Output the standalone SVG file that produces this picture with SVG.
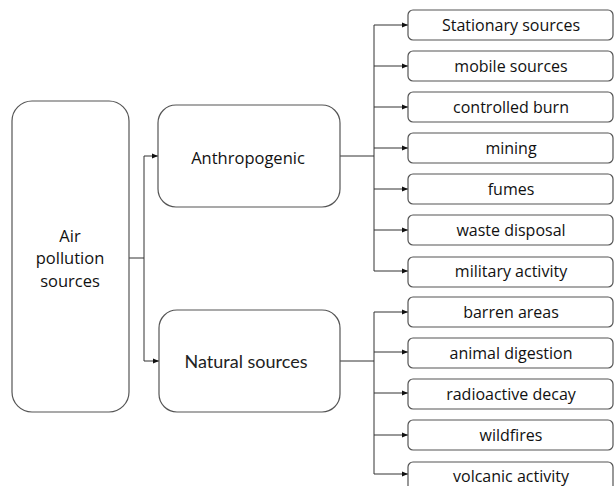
<svg xmlns="http://www.w3.org/2000/svg" width="616" height="486" viewBox="0 0 616 486">
<style>
.box{fill:#fff;stroke:#555;stroke-width:1.2}
.t{font-family:"Open Sans","Liberation Sans",sans-serif;font-size:16px;fill:#111;text-anchor:middle;dominant-baseline:central}
.big{font-size:16.5px}
.lato{font-family:Lato,"Open Sans",sans-serif;font-size:18px;font-weight:400;fill:#222}
.c{fill:none;stroke:#333;stroke-width:1}
</style>
<defs>
<marker id="ah" markerWidth="6" markerHeight="6" refX="6" refY="3" orient="auto" markerUnits="userSpaceOnUse">
<path d="M0,0.5 L6,3 L0,5.5 Z" fill="#111"/>
</marker>
</defs>
<rect width="616" height="486" fill="#fff"/>
<g id="connectors">
<path class="c" d="M129,258 H144 M144,156 V361"/>
<path class="c" d="M144,156 H158" marker-end="url(#ah)"/>
<path class="c" d="M144,361 H159" marker-end="url(#ah)"/>
<path class="c" d="M340,156 H374 M374,25 V271"/>
<path class="c" d="M374,25 H408" marker-end="url(#ah)"/>
<path class="c" d="M374,66 H408" marker-end="url(#ah)"/>
<path class="c" d="M374,107 H408" marker-end="url(#ah)"/>
<path class="c" d="M374,148 H408" marker-end="url(#ah)"/>
<path class="c" d="M374,189 H408" marker-end="url(#ah)"/>
<path class="c" d="M374,230 H408" marker-end="url(#ah)"/>
<path class="c" d="M374,271 H408" marker-end="url(#ah)"/>
<path class="c" d="M340,361 H374 M374,312 V474"/>
<path class="c" d="M374,312 H408" marker-end="url(#ah)"/>
<path class="c" d="M374,352 H408" marker-end="url(#ah)"/>
<path class="c" d="M374,393 H408" marker-end="url(#ah)"/>
<path class="c" d="M374,435 H408" marker-end="url(#ah)"/>
<path class="c" d="M374,474 H408" marker-end="url(#ah)"/>
</g>
<g id="air">
<rect class="box" x="12" y="101" width="117" height="311" rx="20"/>
<text class="t big" x="70" y="235">Air</text>
<text class="t big" x="70" y="257">pollution</text>
<text class="t big" x="70" y="280">sources</text>
</g>
<g id="anthropogenic">
<rect class="box" x="158" y="105" width="182" height="102" rx="18"/>
<text class="t big" x="248" y="157">Anthropogenic</text>
</g>
<g id="natural">
<rect class="box" x="159" y="310" width="181" height="102" rx="18"/>
<text class="t lato" x="246" y="361">Natural sources</text>
</g>
<g id="stationary"><rect class="box" x="408" y="10" width="205" height="30" rx="5"/><text class="t" x="511" y="25">Stationary sources</text></g>
<g id="mobile"><rect class="box" x="408" y="51" width="205" height="30" rx="5"/><text class="t" x="511" y="66">mobile sources</text></g>
<g id="burn"><rect class="box" x="408" y="92" width="205" height="30" rx="5"/><text class="t" x="511" y="107">controlled burn</text></g>
<g id="mining"><rect class="box" x="408" y="133" width="205" height="30" rx="5"/><text class="t" x="511" y="148">mining</text></g>
<g id="fumes"><rect class="box" x="408" y="174" width="205" height="30" rx="5"/><text class="t" x="511" y="189">fumes</text></g>
<g id="waste"><rect class="box" x="408" y="215" width="205" height="30" rx="5"/><text class="t" x="511" y="230">waste disposal</text></g>
<g id="military"><rect class="box" x="408" y="257" width="205" height="30" rx="5"/><text class="t" x="511" y="271">military activity</text></g>
<g id="barren"><rect class="box" x="408" y="297" width="205" height="30" rx="5"/><text class="t" x="511" y="312">barren areas</text></g>
<g id="animal"><rect class="box" x="408" y="338" width="205" height="30" rx="5"/><text class="t" x="511" y="353">animal digestion</text></g>
<g id="radioactive"><rect class="box" x="408" y="379" width="205" height="30" rx="5"/><text class="t" x="511" y="394">radioactive decay</text></g>
<g id="wildfires"><rect class="box" x="408" y="420" width="205" height="30" rx="5"/><text class="t" x="511" y="435">wildfires</text></g>
<g id="volcanic"><rect class="box" x="408" y="462" width="205" height="30" rx="5"/><text class="t" x="511" y="476">volcanic activity</text></g>
</svg>
